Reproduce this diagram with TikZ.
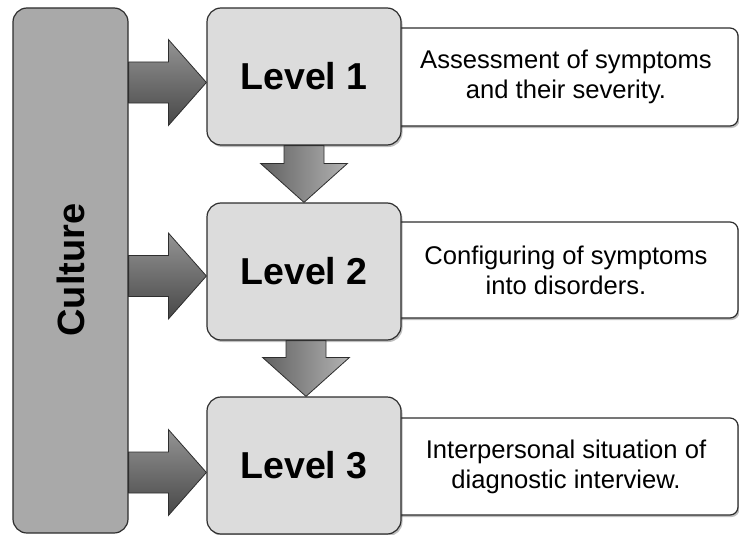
\documentclass[tikz,border=0pt]{standalone}
\usepackage{fontspec}
\setmainfont{Liberation Sans}
\usetikzlibrary{calc,shadows}
\definecolor{culturefill}{HTML}{A9A9A9}
\definecolor{levelfill}{HTML}{DCDCDC}
\definecolor{edge}{HTML}{2E2E2E}
\tikzset{
  boxshadow/.style={drop shadow={shadow xshift=1.5pt,shadow yshift=-2pt,opacity=0.25,fill=black}},
  culturebox/.style={draw=edge,line width=1.2pt,fill=culturefill,rounded corners=14pt,
    minimum width=115pt,minimum height=525pt,inner sep=0pt},
  levelbox/.style={draw=edge,line width=1.2pt,fill=levelfill,rounded corners=14pt,
    minimum width=194pt,minimum height=137pt,inner sep=0pt,boxshadow,
    font=\fontsize{37.5}{40}\selectfont\bfseries},
  descbox/.style={draw=edge,line width=1.2pt,fill=white,rounded corners=8pt,boxshadow},
  desctext/.style={align=center,inner sep=0pt,font=\fontsize{25.6}{30}\selectfont},
  harrow/.style={draw=edge,line width=0.8pt,top color=black!42,bottom color=black!72},
  varrow/.style={draw=edge,line width=0.8pt,left color=black!62,right color=black!30},
}
\begin{document}
\begin{tikzpicture}[x=1pt,y=-1pt]
\useasboundingbox (0,0) rectangle (739,535);
% description boxes (behind levels)
\draw[descbox] (360,28) rectangle (738,126);
\draw[descbox] (360,222) rectangle (738,318);
\draw[descbox] (360,418) rectangle (738,515);
\node[desctext] (d1) at (566,77) {Assessment of symptoms\\and their severity.};
\node[desctext] (d2) at (566,270) {Configuring of symptoms\\into disorders.};
\node[desctext] (d3) at (566,466.5) {Interpersonal situation of\\diagnostic interview.};
% culture
\node[culturebox] (C) at (70.5,270.5) {};
\node[rotate=90,inner sep=0pt,font=\fontsize{38}{40}\selectfont\bfseries] (ct) at (71,270) {Culture};
% levels
\node[levelbox] (L1) at (304,76.5) {Level 1};
\node[levelbox] (L2) at (304,271.5) {Level 2};
\node[levelbox] (L3) at (304,465.5) {Level 3};
% horizontal arrows
\foreach \L/\dy in {L1/6,L2/4.5,L3/7}{
  \coordinate (t) at ($(\L.west)+(0,\dy)$);
  \path[harrow] (t) -- ($(t)+(-38,-43)$) -- ($(t)+(-38,-20.5)$)
    -- ($(C.east|-t)+(0,-20.5)$) -- ($(C.east|-t)+(0,20.5)$)
    -- ($(t)+(-38,20.5)$) -- ($(t)+(-38,43)$) -- cycle;
}
% vertical arrows
\foreach \A/\B/\dx in {L1/L2/0,L2/L3/2}{
  \coordinate (s) at ($(\A.south)+(\dx,0)$);
  \coordinate (t) at ($(\B.north)+(\dx,0)$);
  \path[varrow] (t) -- ($(t)+(-43.5,-39)$) -- ($(t)+(-20,-39)$)
    -- ($(s)+(-20,0)$) -- ($(s)+(20,0)$)
    -- ($(t)+(20,-39)$) -- ($(t)+(43.5,-39)$) -- cycle;
}
\end{tikzpicture}
\end{document}
